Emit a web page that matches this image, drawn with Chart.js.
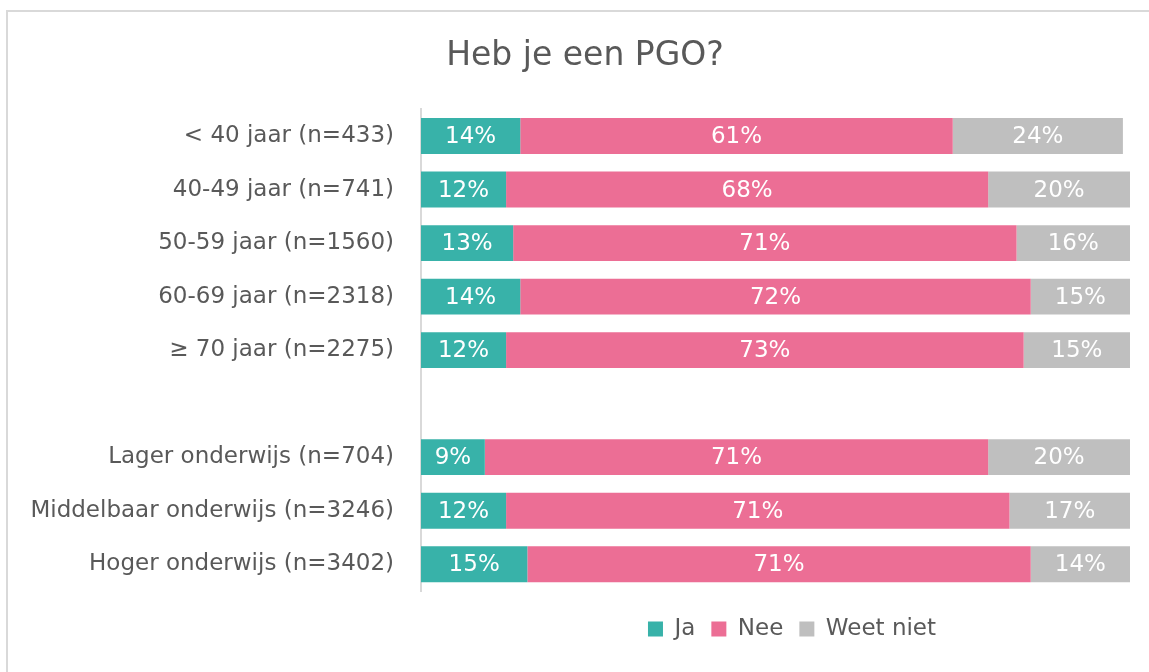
<!DOCTYPE html>
<html lang="nl">
<head>
<meta charset="utf-8">
<title>Heb je een PGO?</title>
<script src="https://cdn.jsdelivr.net/npm/chart.js@4/dist/chart.umd.min.js"></script>
<style>
    html, body { margin: 0; padding: 0; background: #fff; overflow: hidden; }
    #frame {
        position: absolute;
        left: 6px;
        top: 10px;
        width: 1200px;
        height: 700px;
        border: 2px solid #d9d9d9;
    }
    #pgoChart { position: absolute; left: 0; top: 0; }
</style>
</head>
<body>
<div id="frame"></div>
<canvas id="pgoChart" width="1149" height="672"></canvas>
<script>
"use strict";

// Rows: age groups, an empty spacer row, then education levels
const categories = [
    "< 40 jaar (n=433)",
    "40-49 jaar (n=741)",
    "50-59 jaar (n=1560)",
    "60-69 jaar (n=2318)",
    "\u2265 70 jaar (n=2275)",
    "",
    "Lager onderwijs (n=704)",
    "Middelbaar onderwijs (n=3246)",
    "Hoger onderwijs (n=3402)"
];

// Percentages per answer
const ja       = [14, 12, 13, 14, 12, null,  9, 12, 15];
const nee      = [61, 68, 71, 72, 73, null, 71, 71, 71];
const weetNiet = [24, 20, 16, 15, 15, null, 20, 17, 14];

const FONT = '"DejaVu Sans", Verdana, sans-serif';
const TEXT_GREY = '#595959';

// White percentage text centred in every bar segment
const barLabels = {
    id: 'barLabels',
    afterDatasetsDraw(chart) {
        const { ctx, chartArea } = chart;
        ctx.save();
        ctx.font = '23px ' + FONT;
        ctx.fillStyle = '#ffffff';
        ctx.textAlign = 'center';
        ctx.textBaseline = 'middle';
        chart.data.datasets.forEach((ds, i) => {
            chart.getDatasetMeta(i).data.forEach((bar, j) => {
                const v = ds.data[j];
                if (v == null) return;
                const left = Math.max(Math.min(bar.x, bar.base), chartArea.left);
                const right = Math.min(Math.max(bar.x, bar.base), chartArea.right);
                ctx.fillText(v + '%', (left + right) / 2, bar.y + 1);
            });
        });
        ctx.restore();
    }
};

// Move a horizontal layout box so that its centre lands on cx
function centreBox(box, cx) {
    const dx = cx - (box.left + box.right) / 2;
    box.left += dx;
    box.right += dx;
}

// Title and legend are centred on their own spots, not on the canvas
const boxShift = {
    id: 'boxShift',
    afterLayout(chart) {
        centreBox(chart.titleBlock, 585);
        centreBox(chart.legend, 792);
    }
};

function CreateChart() {
    const ctx = document.getElementById('pgoChart').getContext('2d');
    new Chart(ctx, {
        type: 'bar',
        data: {
            labels: categories,
            datasets: [
                { label: 'Ja', data: ja, backgroundColor: '#38b2a9' },
                { label: 'Nee', data: nee, backgroundColor: '#ec6e95' },
                { label: 'Weet niet', data: weetNiet, backgroundColor: '#bfbfbf' }
            ]
        },
        options: {
            indexAxis: 'y',
            responsive: false,
            animation: false,
            layout: {
                padding: { left: 10, right: 19, top: 0, bottom: 21.5 }
            },
            datasets: {
                bar: {
                    categoryPercentage: 1,
                    barPercentage: 0.67,
                    borderWidth: 0
                }
            },
            scales: {
                x: {
                    stacked: true,
                    min: 0,
                    max: 100,
                    display: true,
                    ticks: { display: false },
                    grid: { display: false },
                    border: { display: false },
                    afterFit(scale) { scale.height = 10.5; }
                },
                y: {
                    stacked: true,
                    grid: { display: false, drawTicks: false },
                    border: { display: true, color: '#d9d9d9', width: 2 },
                    ticks: {
                        autoSkip: false,
                        padding: 27,
                        color: TEXT_GREY,
                        font: { family: FONT, size: 23 }
                    },
                    afterFit(scale) { scale.width = 411; }
                }
            },
            plugins: {
                title: {
                    display: true,
                    text: 'Heb je een PGO?',
                    color: TEXT_GREY,
                    font: { family: FONT, size: 33, weight: 'normal' },
                    padding: { top: 36.5, bottom: 33.15 }
                },
                legend: {
                    position: 'bottom',
                    labels: {
                        boxWidth: 15,
                        boxHeight: 15,
                        padding: 16,
                        color: TEXT_GREY,
                        font: { family: FONT, size: 23 }
                    }
                },
                tooltip: { enabled: false }
            }
        },
        plugins: [barLabels, boxShift]
    });
}

window.addEventListener('load', () => {
    CreateChart();
});
</script>
</body>
</html>
